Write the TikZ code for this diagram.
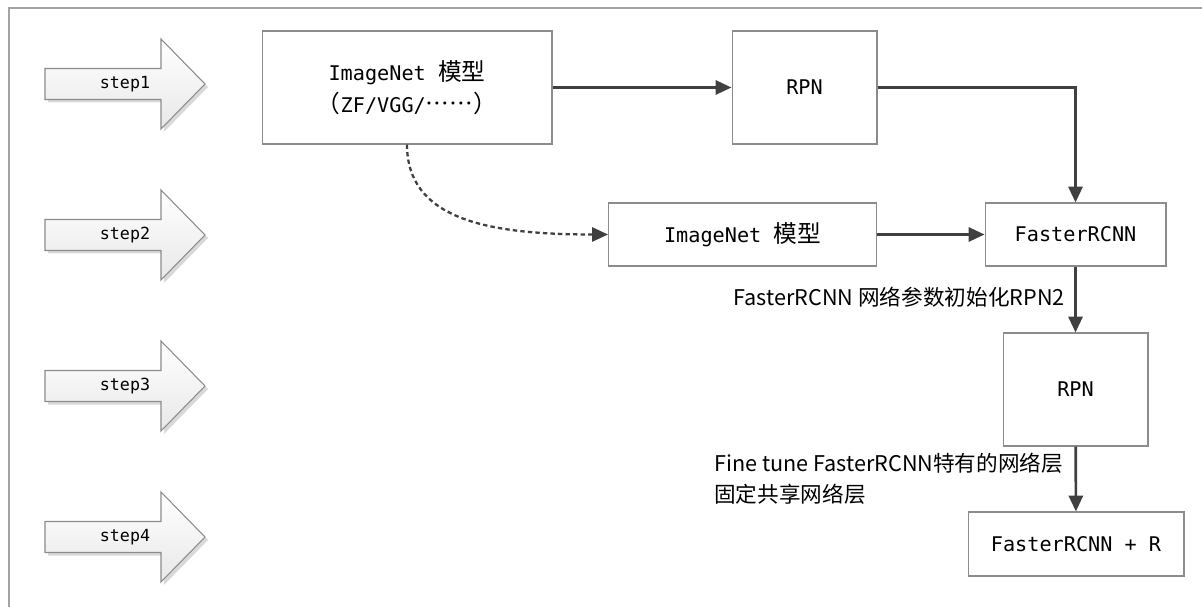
\documentclass[tikz,border=0pt]{standalone}
\usepackage{fontspec}
\setmainfont{DejaVu Sans Mono}
\newfontfamily\cjk[Script=CJK, Language=Chinese Simplified]{Noto Sans CJK SC}
\usepackage{tikz}
\usetikzlibrary{arrows.meta, positioning}
\definecolor{LineGray}{HTML}{8C8C8C}
\definecolor{ArrowDark}{HTML}{404040}
\definecolor{ShadowGray}{HTML}{D9D9D9}
\newcommand{\zh}[1]{{\cjk\fontsize{13.5}{18}\selectfont #1}}

\begin{document}
\begin{tikzpicture}[
  x=0.02cm, y=-0.02cm,
  block/.style={rectangle, draw=LineGray, line width=0.6pt, fill=white, align=center, inner sep=0pt, font=\fontsize{11.5}{18}\selectfont},
  arrow/.style={-{Triangle[length=9pt,width=8pt]}, line width=1.5pt, ArrowDark},
  dasharrow/.style={arrow, line width=1.3pt, dash pattern=on 2.5pt off 1.8pt},
  note/.style={inner sep=0pt, align=left, font=\cjk\fontsize{12.3}{17.5}\selectfont},
  steplabel/.style={inner sep=0pt, font=\fontsize{9.5}{11}\selectfont}
]
  \useasboundingbox (0,0) rectangle (1202,607);
  % frame
  \draw[LineGray!80, line width=0.8pt] (9,607) -- (9,8) -- (1202,8);

  % step arrows
  \foreach \n in {1,...,4}{
    \pgfmathsetmacro{\yc}{84+151*(\n-1)}
    \fill[ShadowGray] (48,\yc-12.5) -- (164,\yc-12.5) -- (164,\yc-42) -- (208,\yc+3) -- (164,\yc+48) -- (164,\yc+18.5) -- (48,\yc+18.5) -- cycle;
    \draw[LineGray, line width=0.6pt, top color=white, bottom color=gray!18]
      (45,\yc-15.5) -- (161,\yc-15.5) -- (161,\yc-45) -- (205,\yc) -- (161,\yc+45) -- (161,\yc+15.5) -- (45,\yc+15.5) -- cycle;
    \node[steplabel] (step\n) at (125,\yc) {step\n};
  }

  % boxes
  \node[block, minimum width=5.8cm, minimum height=2.26cm] (img1) at (407,87.5) {ImageNet \zh{模型}\\\zh{（}ZF/VGG/\zh{……）}};
  \node[block, minimum width=2.9cm, minimum height=2.26cm] (rpn1) at (804.5,87.5) {RPN};
  \node[block, minimum width=5.36cm, minimum height=1.26cm] (img2) at (742.5,234.5) {ImageNet \zh{模型}};
  \node[block, minimum width=3.62cm, minimum height=1.26cm] (frcnn) at (1075.5,234.5) {FasterRCNN};
  \node[block, minimum width=2.9cm, minimum height=2.26cm] (rpn2) at (1075.5,389.5) {RPN};
  \node[block, minimum width=4.32cm, minimum height=1.28cm] (final) at (1076,544) {FasterRCNN + R};

  % notes
  \node[note, anchor=east] (init) at (1065,297) {FasterRCNN 网络参数初始化RPN2};
  \node[note, anchor=west] (tune) at (714,478.5) {Fine tune FasterRCNN特有的网络层\\固定共享网络层};

  % connectors
  \draw[arrow] (img1) -- (rpn1);
  \draw[arrow] (rpn1.east) -| (frcnn.north);
  \draw[dasharrow] (img1.south) .. controls +(0,75) and +(-120,0) .. (img2.west);
  \draw[arrow] (img2) -- (frcnn);
  \draw[arrow] (frcnn) -- (rpn2);
  \draw[arrow] (rpn2) -- (final);
\end{tikzpicture}
\end{document}
